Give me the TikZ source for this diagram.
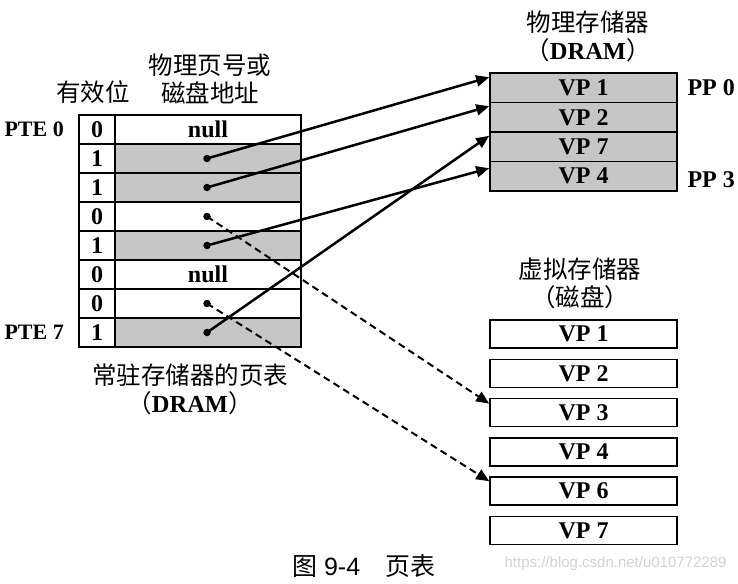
\documentclass[tikz,border=0pt]{standalone}
\usepackage{fontspec}
\setmainfont{Liberation Serif}
\setsansfont{Liberation Sans}
\newfontfamily\cjk{Noto Sans CJK SC}
\usetikzlibrary{arrows.meta,calc}
\begin{document}
\begin{tikzpicture}[x=1pt,y=-1pt,
  lat/.style={font=\fontsize{24}{24}\selectfont\bfseries},
  zh/.style={font=\fontsize{24.5}{28}\cjk, align=center},
  cell/.style={draw, line width=1.6pt, inner sep=0pt, minimum height=29pt, lat},
  shade/.style={fill=gray!45},
  dot/.style={circle, fill=black, inner sep=0pt, minimum size=7.5pt},
  solidarr/.style={line width=2.5pt, -{Triangle[length=13pt,width=11pt]}},
  dasharr/.style={line width=2pt, dash pattern=on 7pt off 4.5pt, -{Triangle[length=13pt,width=11pt]}}
]
\useasboundingbox (0,0) rectangle (738,583);

% headers
\node[zh] (hvalid) at (93,92) {有效位};
\node[zh] (hppn) at (210,79) {物理页号或\\磁盘地址};

% page table
\foreach \i/\b in {0/0,1/1,2/1,3/0,4/1,5/0,6/0,7/1}{
  \node[cell, minimum width=36pt] (v\i) at (97,129.5+29*\i) {\b};
}
\foreach \i in {0,3,5,6}{
  \node[cell, minimum width=186pt] (p\i) at (208,129.5+29*\i) {};
}
\foreach \i in {1,2,4,7}{
  \node[cell, shade, minimum width=186pt] (p\i) at (208,129.5+29*\i) {};
}
\node[lat] (null0) at (p0) {null};
\node[lat] (null5) at (p5) {null};
\foreach \i in {1,2,3,4,6,7}{
  \node[dot] (d\i) at (207,129.5+29*\i) {};
}

\node[lat, font=\fontsize{22}{22}\selectfont\bfseries, anchor=east, inner sep=0pt] (pte0) at (64,129.5) {PTE 0};
\node[lat, font=\fontsize{22}{22}\selectfont\bfseries, anchor=east, inner sep=0pt] (pte7) at (64,332.5) {PTE 7};

\node[zh] (tablecap) at (190,389) {常驻存储器的页表\\（\textbf{\fontspec{Liberation Serif}DRAM}）};

% physical memory
\node[zh] (phys) at (588,36) {物理存储器\\（\textbf{\fontspec{Liberation Serif}DRAM}）};
\foreach \i/\t in {1/VP 1,2/VP 2,3/VP 7,4/VP 4}{
  \node[cell, shade, minimum width=187pt, minimum height=29.5pt] (m\i) at (583.5,58.25+29.5*\i) {\t};
}
\node[lat, anchor=west] (pp0) at (684,87.75) {PP 0};
\node[lat, anchor=west] (pp3) at (684,180) {PP 3};

% disk
\node[zh] (disk) at (580,283) {虚拟存储器\\（磁盘）};
\foreach \k/\t in {0/1,1/2,2/3,3/4,4/6,5/7}{
  \node[cell, minimum width=187pt, minimum height=28pt] (k\t) at (583.5,334+39.3*\k) {VP \t};
}

% arrows
\draw[solidarr] (d1.center) -- ([yshift=10.5pt]m1.west);
\draw[solidarr] (d2.center) -- ([yshift=11pt]m2.west);
\draw[solidarr] (d4.center) -- ([yshift=8pt]m4.west);
\draw[solidarr] (d7.center) -- ([yshift=11pt]m3.west);
\draw[dasharr] (d3.center) -- ([yshift=9pt]k3.west);
\draw[dasharr] (d6.center) -- ([yshift=10pt]k6.west);

% caption
\node[font=\fontsize{25}{25}\selectfont] (caption) at (364,566) {{\cjk 图} {\sffamily 9-4}\quad{\cjk 页表}};
\node[font=\fontsize{15}{15}\sffamily, text=gray!35, anchor=east] (wm) at (730,564) {https://blog.csdn.net/u010772289};
\end{tikzpicture}
\end{document}
